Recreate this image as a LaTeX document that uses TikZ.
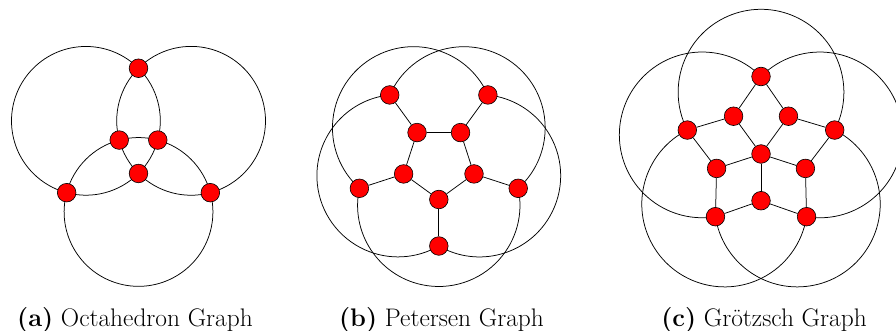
\documentclass[tikz,border=0pt]{standalone}
\usepackage{fontspec}
\usetikzlibrary{backgrounds}
\tikzset{
  vtx/.style={circle, fill=red, draw=black, line width=0.6pt, minimum size=18.6pt, inner sep=0pt},
  edge/.style={draw=black, line width=0.75pt},
  capt/.style={anchor=base, inner sep=0pt, font=\fontsize{25.4pt}{30pt}\selectfont}
}
\begin{document}
\begin{tikzpicture}[x=1pt, y=1pt]
\useasboundingbox (0,0) rectangle (896,330);
\clip (0,0) rectangle (896,330);

% ---------------- (a) Octahedron graph ----------------
\begin{scope}[shift={(138.5,178.8)}]
  \node[vtx] (a1) at (90:82.95) {};
  \node[vtx] (a2) at (210:82.95) {};
  \node[vtx] (a3) at (330:82.95) {};
  \node[vtx] (a4) at (150:22.26) {};
  \node[vtx] (a5) at (30:22.26) {};
  \node[vtx] (a6) at (270:22.26) {};
  \begin{scope}[on background layer]
    % bottom circle
    \draw[edge] (a3.center) arc[start angle=15, end angle=75, radius=74.4];
    \draw[edge] (a5.center) arc[start angle=75, end angle=105, radius=74.4];
    \draw[edge] (a4.center) arc[start angle=105, end angle=165, radius=74.4];
    \draw[edge] (a2.center) arc[start angle=165, end angle=375, radius=74.4];
    % right circle
    \draw[edge] (a1.center) arc[start angle=135, end angle=195, radius=74.4];
    \draw[edge] (a4.center) arc[start angle=195, end angle=225, radius=74.4];
    \draw[edge] (a6.center) arc[start angle=225, end angle=285, radius=74.4];
    \draw[edge] (a3.center) arc[start angle=285, end angle=495, radius=74.4];
    % left circle
    \draw[edge] (a2.center) arc[start angle=-105, end angle=-45, radius=74.4];
    \draw[edge] (a6.center) arc[start angle=-45, end angle=-15, radius=74.4];
    \draw[edge] (a5.center) arc[start angle=-15, end angle=45, radius=74.4];
    \draw[edge] (a1.center) arc[start angle=45, end angle=255, radius=74.4];
  \end{scope}
\end{scope}

% ---------------- (b) Petersen graph ----------------
\begin{scope}[shift={(438.8,167.5)}]
  \foreach \k in {0,...,4}{
    \pgfmathsetmacro\ang{270+72*\k}
    \node[vtx] (bo\k) at (\ang:83.5) {};
    \node[vtx] (bi\k) at (\ang:37) {};
  }
  \begin{scope}[on background layer]
    \foreach \k in {0,...,4}{
      \pgfmathtruncatemacro\nx{mod(\k+1,5)}
      \pgfmathsetmacro\sa{270+72*\k-30.08}
      \pgfmathsetmacro\ea{270+72*\k+174.08}
      \draw[edge] (bo\k) -- (bi\k);
      \draw[edge] (bi\k) -- (bi\nx);
      \draw[edge] (bo\k.center) arc[start angle=\sa, end angle=\ea, radius=81.2];
    }
  \end{scope}
\end{scope}

% ---------------- (c) Groetzsch graph ----------------
\begin{scope}[shift={(761,176)}]
  \node[vtx] (w) at (0,0) {};
  \foreach \k in {0,...,4}{
    \pgfmathsetmacro\ang{90+72*\k}
    \pgfmathsetmacro\angv{126+72*\k}
    \node[vtx] (u\k) at (\ang:77.5) {};
    \node[vtx] (v\k) at (\angv:46.7) {};
  }
  \begin{scope}[on background layer]
    \foreach \k in {0,...,4}{
      \pgfmathtruncatemacro\nx{mod(\k+1,5)}
      \pgfmathsetmacro\sa{90+72*\k-45.2}
      \pgfmathsetmacro\ea{90+72*\k+189.2}
      \draw[edge] (w) -- (v\k);
      \draw[edge] (u\k) -- (v\k);
      \draw[edge] (v\k) -- (u\nx);
      \draw[edge] (u\k.center) arc[start angle=\sa, end angle=\ea, radius=82.87];
    }
  \end{scope}
\end{scope}

% ---------------- captions ----------------
\node[capt] (capA) at (135,3.5) {\textbf{(a)} Octahedron Graph};
\node[capt] (capB) at (441.5,3.5) {\textbf{(b)} Petersen Graph};
\node[capt] (capC) at (764,3.5) {\textbf{(c)} Grötzsch Graph};
\end{tikzpicture}
\end{document}
